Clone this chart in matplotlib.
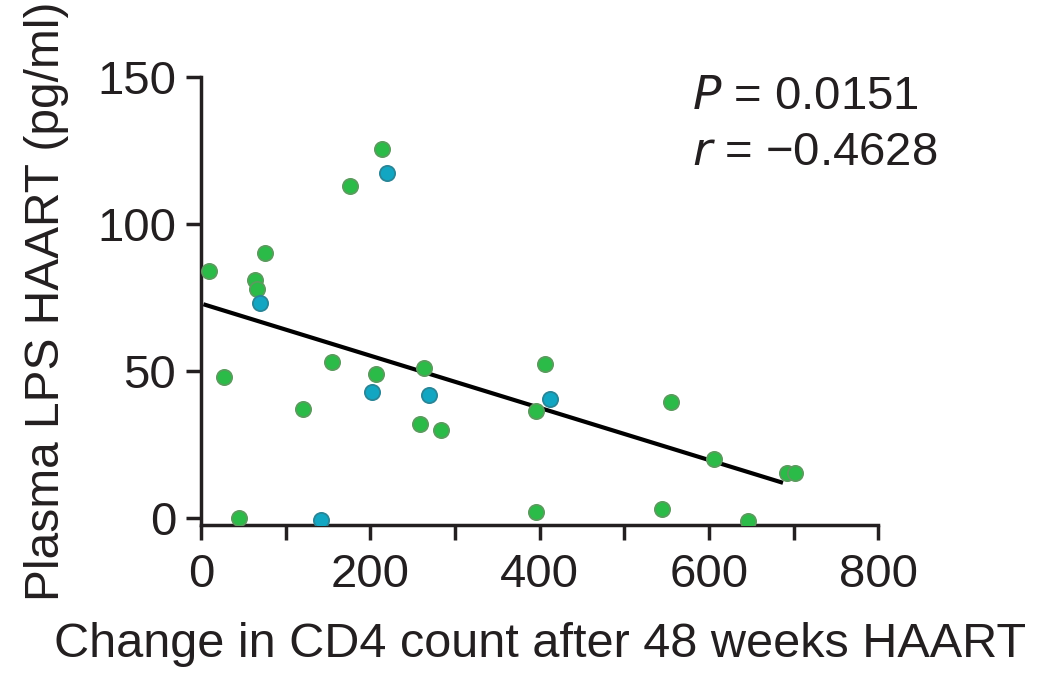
"""Plasma LPS vs change in CD4 count after 48 weeks HAART."""
import matplotlib
matplotlib.use("Agg")
import matplotlib.pyplot as plt
from matplotlib.ticker import MultipleLocator

plt.rcParams["font.family"] = ["Liberation Sans", "DejaVu Sans"]

# green group
green_x = [9, 27, 45, 64, 66, 75, 120, 155, 176, 206, 214, 258, 263, 283,
           395, 396, 406, 545, 555, 606, 646, 692, 702]
green_y = [84, 48, 0, 81, 78, 90, 37, 53, 113, 49, 125.5, 32, 51, 30,
           36.5, 2, 52.5, 3, 39.5, 20, -1, 15.5, 15.5]

# blue group
blue_x = [69, 142, 202, 220, 269, 412]
blue_y = [73, -0.5, 43, 117.5, 42, 40.5]

# regression line end points
fit_x = [5, 685]
fit_y = [72.5, 12.2]

p_text = "$P$ = 0.0151"
r_text = "$r$ = \u22120.4628"

fig = plt.figure(figsize=(10.37, 6.75), dpi=100)
ax = fig.add_axes([0.194, 0.222, 0.653, 0.664])

ax.plot(fit_x, fit_y, color="black", lw=3, zorder=2)
ax.scatter(green_x, green_y, s=120, color="#2bbb48", edgecolors="#5a9c5e",
           linewidths=1.3, zorder=3)
ax.scatter(blue_x, blue_y, s=120, color="#12a6c2", edgecolors="#2a8596",
           linewidths=1.3, zorder=3)

ax.set_xlim(0, 800)
ax.set_ylim(-2.4, 150)
ax.set_xticks([0, 200, 400, 600, 800])
ax.xaxis.set_minor_locator(MultipleLocator(100))
ax.set_yticks([0, 50, 100, 150])

for s in ["top", "right"]:
    ax.spines[s].set_visible(False)
for s in ["left", "bottom"]:
    ax.spines[s].set_linewidth(2.5)
    ax.spines[s].set_color("#231f20")

ax.tick_params(axis="both", which="both", direction="out", width=2.5,
               color="#231f20", labelsize=34, labelcolor="#231f20")
ax.tick_params(axis="both", which="major", length=11)
ax.tick_params(axis="x", which="minor", length=11)
ax.tick_params(axis="x", pad=9)
ax.tick_params(axis="y", pad=7)

ax.set_xlabel("Change in CD4 count after 48 weeks HAART", fontsize=35,
              color="#231f20", labelpad=18)
ax.set_ylabel("Plasma LPS HAART (pg/ml)", fontsize=34.5, color="#231f20",
              labelpad=20)

ax.text(0.725, 1.005, p_text, transform=ax.transAxes, fontsize=34,
        color="#231f20", va="top", ha="left")
ax.text(0.725, 0.88, r_text, transform=ax.transAxes, fontsize=34,
        color="#231f20", va="top", ha="left")

fig.savefig("out.png", dpi=100)
